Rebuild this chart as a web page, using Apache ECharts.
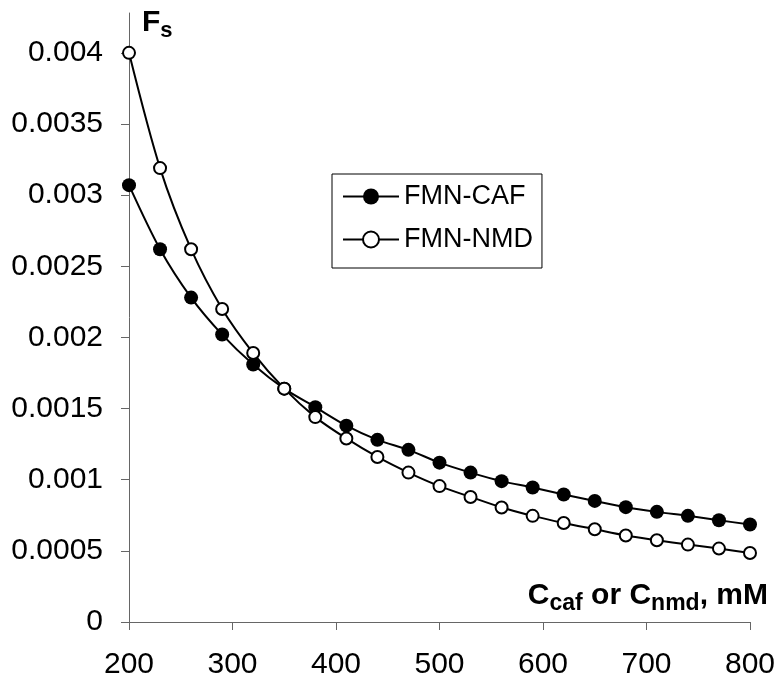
<!DOCTYPE html>
<html>
<head>
<meta charset="utf-8">
<script src="https://cdn.jsdelivr.net/npm/echarts@6/dist/echarts.min.js"></script>
<style>
  html, body { margin: 0; padding: 0; background: #fff; }
  #chart { width: 780px; height: 686px; }
</style>
</head>
<body>
<div id="chart"></div>
<script>
// concentration, mM
const conc = [200, 230, 260, 290, 320, 350, 380, 410, 440, 470, 500, 530, 560, 590, 620, 650, 680, 710, 740, 770, 800];
// Fs values
const fmnCaf = [0.00307, 0.00262, 0.00228, 0.00202, 0.00181, 0.00164, 0.00151, 0.00138, 0.00128, 0.00121,
  0.00112, 0.00105, 0.00099, 0.000945, 0.000896, 0.000851, 0.000807, 0.000774, 0.000746, 0.000715, 0.000685];
const fmnNmd = [0.0040, 0.00319, 0.00262, 0.00220, 0.00189, 0.00164, 0.00144, 0.00129, 0.00116, 0.00105,
  0.000955, 0.000879, 0.000805, 0.000746, 0.000696, 0.000652, 0.000608, 0.000575, 0.000544, 0.000516, 0.000485];
const yTicks = [0, 0.0005, 0.001, 0.0015, 0.002, 0.0025, 0.003, 0.0035, 0.004];

const FONT = 'Liberation Sans, Arial, sans-serif';
const pair = (xs, ys) => xs.map((x, i) => [x, ys[i]]);

const chart = echarts.init(document.getElementById('chart'));
chart.setOption({
  animation: false,
  backgroundColor: '#fff',
  textStyle: { fontFamily: FONT, color: '#000' },
  title: [
    {
      text: '{m|F}{s|s}',
      left: 142, top: 4, padding: 0,
      textStyle: {
        rich: {
          m: { fontFamily: FONT, fontSize: 30, fontWeight: 'bold', lineHeight: 38, color: '#000' },
          s: { fontFamily: FONT, fontSize: 22, fontWeight: 'bold', lineHeight: 20, verticalAlign: 'bottom', color: '#000' }
        }
      }
    },
    {
      text: '{m|C}{s|caf}{m| or C}{s|nmd}{m|, mM}',
      right: 12, top: 577, padding: 0,
      textStyle: {
        rich: {
          m: { fontFamily: FONT, fontSize: 30, fontWeight: 'bold', lineHeight: 38, color: '#000' },
          s: { fontFamily: FONT, fontSize: 23, fontWeight: 'bold', lineHeight: 20, verticalAlign: 'bottom', color: '#000' }
        }
      }
    }
  ],
  legend: {
    orient: 'vertical',
    left: 332, top: 174,
    padding: [9, 9, 15, 10],
    itemGap: 16,
    itemWidth: 56,
    itemHeight: 20,
    borderColor: '#000',
    borderWidth: 1,
    backgroundColor: '#fff',
    textStyle: { fontFamily: FONT, fontSize: 27, color: '#000' },
    data: ['FMN-CAF', 'FMN-NMD']
  },
  grid: { left: 129, right: 30, top: 13, bottom: 64 },
  xAxis: {
    type: 'value',
    min: 200, max: 800, interval: 100,
    splitLine: { show: false },
    axisLine: { lineStyle: { color: '#666', width: 1 } },
    axisTick: { length: 8, lineStyle: { color: '#666' } },
    axisLabel: { fontFamily: FONT, fontSize: 30, color: '#000', margin: 28 }
  },
  yAxis: {
    type: 'value',
    min: 0, max: 0.00428,
    splitLine: { show: false },
    axisLine: { show: true, lineStyle: { color: '#666', width: 1 } },
    axisTick: { show: true, length: 8, customValues: yTicks, lineStyle: { color: '#666' } },
    axisLabel: { fontFamily: FONT, fontSize: 30, color: '#000', margin: 26, customValues: yTicks }
  },
  series: [
    {
      name: 'FMN-CAF',
      type: 'line',
      data: pair(conc, fmnCaf),
      smooth: 0.3,
      symbol: 'circle',
      symbolSize: 14,
      lineStyle: { color: '#000', width: 2 },
      itemStyle: { color: '#000', borderColor: '#000', borderWidth: 0 },
      z: 3
    },
    {
      name: 'FMN-NMD',
      type: 'line',
      data: pair(conc, fmnNmd),
      smooth: 0.3,
      symbol: 'circle',
      symbolSize: 12,
      lineStyle: { color: '#000', width: 2 },
      itemStyle: { color: '#fff', borderColor: '#000', borderWidth: 2 },
      z: 4
    }
  ]
});
</script>
</body>
</html>
